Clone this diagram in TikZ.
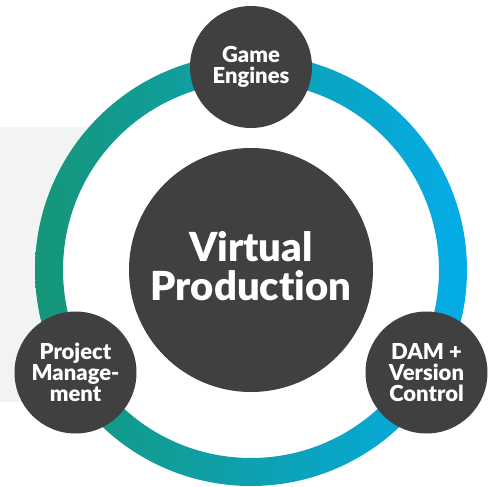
\documentclass[tikz,border=0pt]{standalone}
\usepackage{fontspec}
\setmainfont{Lato}[BoldFont={Lato Black},Ligatures=NoCommon]
\usepackage{tikz}
\definecolor{ringgreen}{HTML}{169678}
\definecolor{ringteal}{HTML}{0EA3A6}
\definecolor{ringblue}{HTML}{04ACE8}
\definecolor{hubgray}{HTML}{404040}
\definecolor{panelgray}{HTML}{F2F4F3}
\tikzset{
	% Two node styles for the diagram: the big hub and the small satellites
	hub node/.style={circle,fill=hubgray,text=white,minimum size=244pt,inner sep=0pt,align=center,text depth=9pt,font=\fontsize{40}{39}\selectfont\bfseries},
	satellite node/.style={circle,fill=hubgray,text=white,minimum size=122pt,inner sep=0pt,align=center,font=\fontsize{22}{21}\selectfont\bfseries}
}
\begin{document}
\begin{tikzpicture}[x=1pt,y=-1pt]
	\useasboundingbox (0,0) rectangle (491,487);
	% light panel behind the left half of the ring
	\fill[panelgray] (0,127) rectangle (150,402);
	\coordinate (c) at (251,270);
	\fill[white] (c) circle (188);
	% the ring, green to blue
	\shade[even odd rule,left color=ringgreen,middle color=ringteal,right color=ringblue] (c) circle (216) (c) circle (188);
	
	\node(vp)[hub node] at (c) {Virtual\\Production};
	\node(ge)[satellite node] at (251,67) {Game\\Engines};
	\node(pm)[satellite node] at (75.5,372.5) {Project\\Manage-\\ment};
	\node(dam)[satellite node] at (426.5,372.5) {DAM +\\Version\\Control};
\end{tikzpicture}
\end{document}
